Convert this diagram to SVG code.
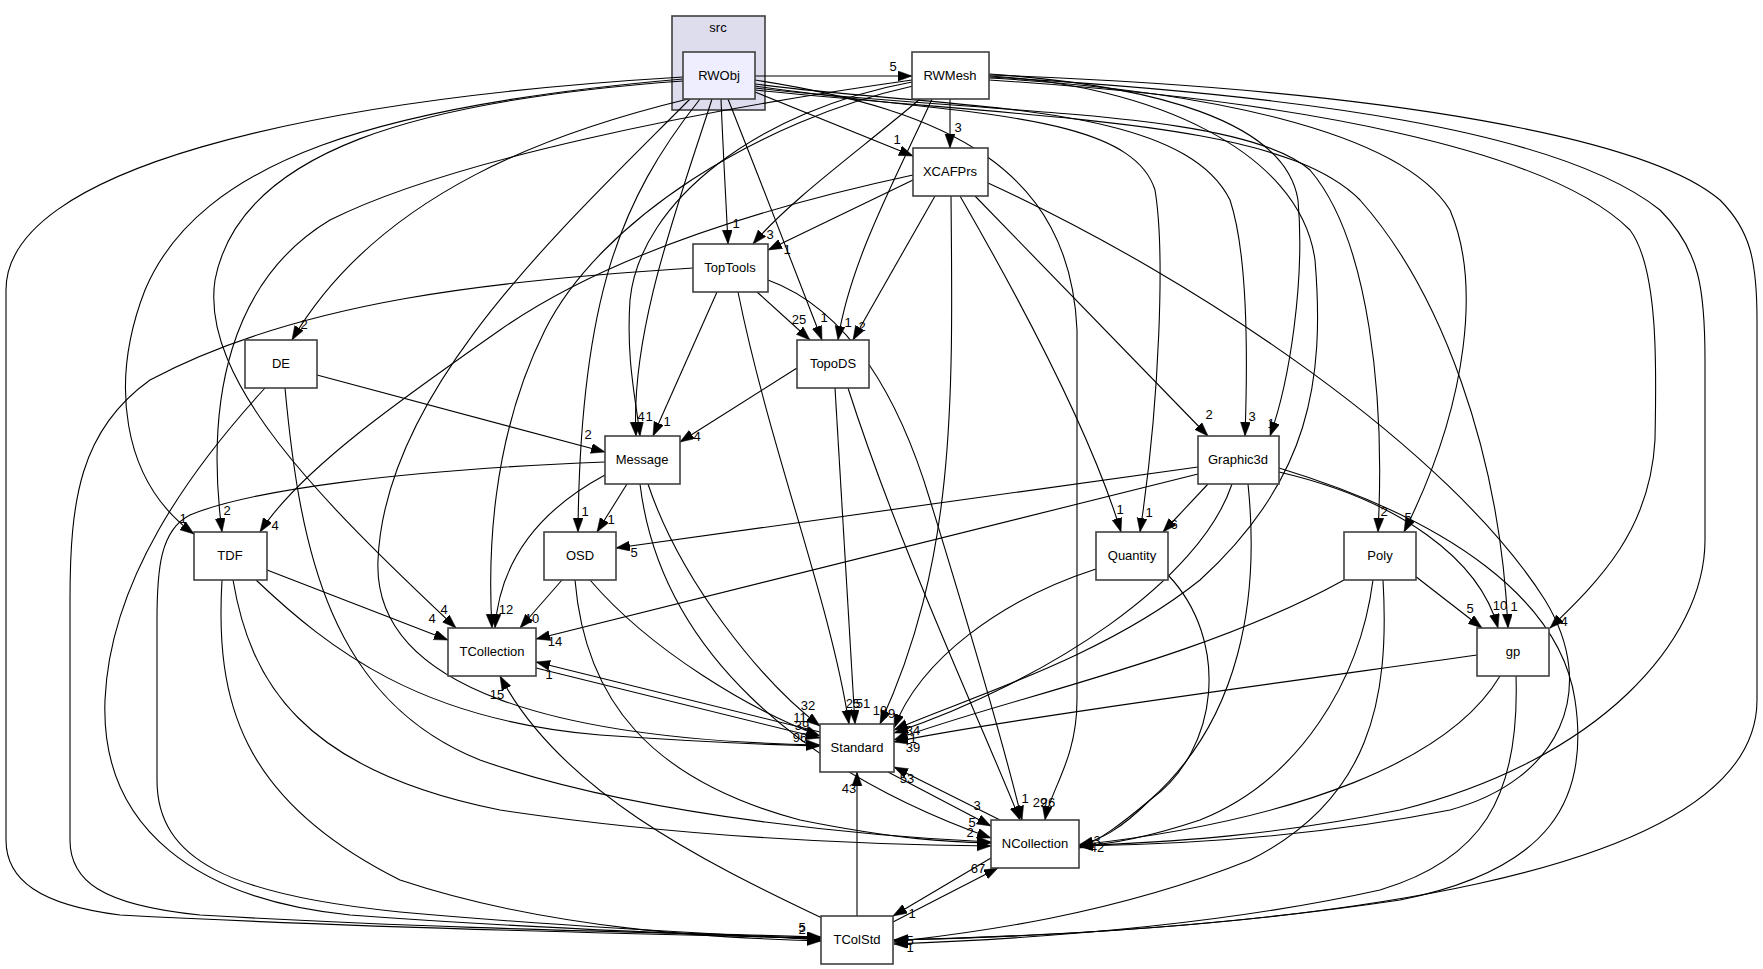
<svg xmlns="http://www.w3.org/2000/svg" width="1763" height="969" viewBox="0 0 1763 969">
<style>
text{font-family:"Liberation Sans",Arial,sans-serif;font-size:13px;fill:#000}
.nd rect{fill:#fff;stroke:#404040;stroke-width:1.6}
.nd text{text-anchor:middle}
.ed path{fill:none;stroke:#000;stroke-width:1.1;marker-end:url(#a)}
.lb text{text-anchor:middle}
</style>
<defs>
<marker id="a" markerUnits="userSpaceOnUse" markerWidth="16" markerHeight="11" refX="14" refY="5" orient="auto"><path d="M0,0 L14,5 L0,10 z" fill="#000" stroke="#000" stroke-width="0.5"/></marker>
</defs>
<rect width="1763" height="969" fill="#fff"/>
<g id="cluster-src">
<rect x="672" y="16" width="93" height="94" fill="#ddddee" stroke="#404040" stroke-width="1.6"/>
<text x="718" y="32" text-anchor="middle">src</text>
</g>
<g class="ed" id="edges">
<path d="M755,76 L912,76"/>
<path d="M755,92 L913,156"/>
<path d="M721,99 C723,150 726,200 728,244"/>
<path d="M728,99 C760,180 795,270 822,340"/>
<path d="M712,99 C680,200 630,330 636,436"/>
<path d="M688,99 C560,130 380,190 292,340"/>
<path d="M683,79 C380,105 200,160 145,290 C110,380 120,480 194,534"/>
<path d="M683,81 C420,100 240,150 215,280 C200,380 320,500 456,628"/>
<path d="M683,77 C300,100 6,170 6,290 L6,840 C6,880 40,905 120,915 C400,930 700,935 821,938"/>
<path d="M700,99 C620,200 580,300 578,532"/>
<path d="M690,99 C560,230 385,390 378,560 C372,690 560,740 820,745"/>
<path d="M755,80 C950,110 1070,170 1077,330 L1077,700 C1077,760 1050,790 1045,820"/>
<path d="M755,84 C950,110 1180,100 1230,200 C1250,260 1247,380 1245,436"/>
<path d="M755,86 C950,115 1130,110 1155,190 C1165,250 1160,400 1140,532"/>
<path d="M755,88 C1000,115 1240,110 1310,170 C1370,240 1385,400 1378,532"/>
<path d="M755,90 C1050,120 1280,120 1360,200 C1440,290 1500,450 1508,628"/>
<path d="M950,99 L950,148"/>
<path d="M920,99 C860,150 790,200 753,244"/>
<path d="M932,99 C900,170 850,260 838,340"/>
<path d="M912,82 C760,110 640,200 630,300 C626,360 636,400 640,436"/>
<path d="M912,80 C700,110 450,160 330,220 C230,280 205,400 222,532"/>
<path d="M913,86 C760,120 600,220 545,330 C490,440 488,560 492,628"/>
<path d="M989,74 C1150,85 1285,120 1298,200 C1305,280 1290,380 1270,436"/>
<path d="M989,76 C1150,85 1300,150 1315,260 C1325,380 1310,480 1200,580 C1100,660 960,700 894,730"/>
<path d="M989,78 C1200,90 1400,130 1450,210 C1480,280 1470,400 1404,532"/>
<path d="M989,80 C1300,100 1550,150 1630,230 C1660,270 1656,380 1655,440 C1650,530 1600,580 1550,628"/>
<path d="M989,77 C1300,95 1560,130 1660,210 C1700,250 1705,290 1705,360 L1705,540 C1705,640 1600,760 1400,810 C1250,840 1150,842 1079,846"/>
<path d="M989,75 C1400,90 1650,140 1720,200 C1750,230 1757,260 1757,320 L1757,700 C1757,880 1300,930 894,940"/>
<path d="M913,180 L768,250"/>
<path d="M935,196 L853,340"/>
<path d="M913,175 C750,210 600,260 500,330 C400,400 300,470 260,532"/>
<path d="M975,196 L1208,436"/>
<path d="M960,196 C1020,300 1090,430 1121,532"/>
<path d="M951,196 C953,400 956,560 880,724"/>
<path d="M988,183 C1200,280 1450,450 1545,600 C1600,690 1560,780 1450,810 C1300,840 1150,845 1079,846"/>
<path d="M757,292 L810,340"/>
<path d="M717,292 L653,436"/>
<path d="M738,292 C770,450 830,600 849,724"/>
<path d="M768,280 C850,310 900,400 930,500 C970,630 1005,750 1022,820"/>
<path d="M693,268 C500,280 300,300 150,380 C80,430 70,500 70,600 L70,840 C70,880 100,905 200,915 C450,930 700,933 821,937"/>
<path d="M317,375 L605,452"/>
<path d="M265,388 C190,470 110,580 105,700 C100,830 200,900 350,915 C550,930 720,935 821,939"/>
<path d="M285,388 C300,550 330,700 480,760 C650,820 900,838 991,842"/>
<path d="M797,368 L680,442"/>
<path d="M835,388 L855,724"/>
<path d="M848,388 C900,550 980,720 1020,820"/>
<path d="M627,484 L597,532"/>
<path d="M605,475 C540,510 500,560 495,628"/>
<path d="M648,484 C680,580 760,680 820,726"/>
<path d="M640,484 C660,650 800,770 991,838"/>
<path d="M605,462 C400,470 250,490 190,515 C160,530 157,570 157,620 L157,780 C157,860 230,895 400,912 C600,930 750,935 821,940"/>
<path d="M1198,467 L616,548"/>
<path d="M1198,474 L536,639"/>
<path d="M1208,484 L1163,532"/>
<path d="M1232,484 C1200,580 1050,680 894,733"/>
<path d="M1248,484 C1260,600 1240,720 1150,800 C1120,830 1100,840 1079,845"/>
<path d="M1279,472 C1400,500 1480,560 1498,628"/>
<path d="M1279,468 C1450,520 1560,600 1575,700 C1590,800 1550,870 1400,900 C1200,930 1000,938 894,940"/>
<path d="M267,570 L448,640"/>
<path d="M256,580 C330,650 420,720 600,735 C700,742 780,745 820,746"/>
<path d="M233,580 C250,680 300,770 500,810 C700,840 900,845 991,846"/>
<path d="M222,580 C215,700 240,800 400,880 C550,930 720,938 821,941"/>
<path d="M562,580 L520,628"/>
<path d="M590,580 C650,650 750,710 820,736"/>
<path d="M575,580 C585,700 650,780 800,820 C900,840 950,842 991,843"/>
<path d="M1096,569 C1000,600 920,660 894,728"/>
<path d="M1168,575 C1230,640 1220,750 1150,800 C1120,825 1100,840 1079,848"/>
<path d="M1415,576 L1482,628"/>
<path d="M1344,580 C1200,660 1000,700 894,740"/>
<path d="M1373,580 C1360,680 1300,780 1200,820 C1140,840 1100,845 1079,846"/>
<path d="M1383,580 C1390,700 1370,800 1250,860 C1100,920 950,935 894,942"/>
<path d="M1477,655 C1300,680 1000,720 894,742"/>
<path d="M1500,676 C1450,760 1300,820 1079,845"/>
<path d="M1516,676 C1520,800 1480,860 1380,890 C1200,930 1000,940 894,944"/>
<path d="M536,668 L820,738"/>
<path d="M820,732 L536,662"/>
<path d="M1000,820 L894,767"/>
<path d="M888,772 L991,826"/>
<path d="M893,922 L998,868"/>
<path d="M991,858 L893,916"/>
<path d="M857,916 L857,772"/>
<path d="M822,918 C700,860 560,790 500,676"/>
</g>
<g class="lb" id="labels">
<text x="893" y="71">5</text>
<text x="897" y="144">1</text>
<text x="958" y="132">3</text>
<text x="736" y="228">1</text>
<text x="770" y="239">3</text>
<text x="787" y="254">1</text>
<text x="304" y="329">2</text>
<text x="641" y="421">4</text>
<text x="649" y="421">1</text>
<text x="667" y="426">1</text>
<text x="697" y="441">4</text>
<text x="588" y="439">2</text>
<text x="183" y="523">1</text>
<text x="227" y="515">2</text>
<text x="275" y="530">4</text>
<text x="585" y="516">1</text>
<text x="611" y="524">1</text>
<text x="634" y="557">5</text>
<text x="444" y="614">4</text>
<text x="506" y="614">12</text>
<text x="432" y="623">4</text>
<text x="532" y="623">10</text>
<text x="555" y="646">14</text>
<text x="549" y="679">1</text>
<text x="497" y="699">15</text>
<text x="799" y="324">25</text>
<text x="824" y="322">1</text>
<text x="848" y="327">1</text>
<text x="862" y="331">2</text>
<text x="1120" y="514">1</text>
<text x="1149" y="517">1</text>
<text x="1174" y="529">6</text>
<text x="1209" y="419">2</text>
<text x="1252" y="421">3</text>
<text x="1271" y="428">1</text>
<text x="1384" y="516">2</text>
<text x="1408" y="522">5</text>
<text x="1470" y="613">5</text>
<text x="1500" y="610">10</text>
<text x="1514" y="611">1</text>
<text x="1564" y="626">4</text>
<text x="808" y="710">32</text>
<text x="853" y="708">25</text>
<text x="863" y="708">51</text>
<text x="880" y="715">10</text>
<text x="888" y="718">49</text>
<text x="800" y="722">11</text>
<text x="802" y="730">39</text>
<text x="800" y="742">96</text>
<text x="913" y="735">34</text>
<text x="913" y="743">1</text>
<text x="913" y="752">39</text>
<text x="907" y="783">53</text>
<text x="849" y="793">43</text>
<text x="977" y="810">3</text>
<text x="972" y="827">5</text>
<text x="970" y="837">2</text>
<text x="1025" y="803">1</text>
<text x="1040" y="807">29</text>
<text x="1048" y="807">26</text>
<text x="978" y="873">67</text>
<text x="912" y="918">1</text>
<text x="802" y="932">5</text>
<text x="802" y="934">2</text>
<text x="910" y="945">5</text>
<text x="910" y="952">1</text>
<text x="1097" y="845">3</text>
<text x="1097" y="852">42</text>
</g>
<g class="nd" id="node-RWObj"><rect x="683" y="52" width="72" height="47" style="fill:#eeeeff"/><text x="719" y="80">RWObj</text></g>
<g class="nd" id="node-RWMesh"><rect x="912" y="52" width="77" height="47"/><text x="950" y="80">RWMesh</text></g>
<g class="nd" id="node-XCAFPrs"><rect x="913" y="148" width="75" height="48"/><text x="950" y="176">XCAFPrs</text></g>
<g class="nd" id="node-TopTools"><rect x="693" y="244" width="75" height="48"/><text x="730" y="272">TopTools</text></g>
<g class="nd" id="node-DE"><rect x="245" y="340" width="72" height="48"/><text x="281" y="368">DE</text></g>
<g class="nd" id="node-TopoDS"><rect x="797" y="340" width="72" height="48"/><text x="833" y="368">TopoDS</text></g>
<g class="nd" id="node-Message"><rect x="605" y="436" width="75" height="48"/><text x="642" y="464">Message</text></g>
<g class="nd" id="node-Graphic3d"><rect x="1198" y="436" width="81" height="48"/><text x="1238" y="464">Graphic3d</text></g>
<g class="nd" id="node-TDF"><rect x="194" y="532" width="73" height="48"/><text x="230" y="560">TDF</text></g>
<g class="nd" id="node-OSD"><rect x="544" y="532" width="72" height="48"/><text x="580" y="560">OSD</text></g>
<g class="nd" id="node-Quantity"><rect x="1096" y="532" width="72" height="48"/><text x="1132" y="560">Quantity</text></g>
<g class="nd" id="node-Poly"><rect x="1344" y="532" width="72" height="48"/><text x="1380" y="560">Poly</text></g>
<g class="nd" id="node-TCollection"><rect x="448" y="628" width="88" height="48"/><text x="492" y="656">TCollection</text></g>
<g class="nd" id="node-gp"><rect x="1477" y="628" width="72" height="48"/><text x="1513" y="656">gp</text></g>
<g class="nd" id="node-Standard"><rect x="820" y="724" width="74" height="48"/><text x="857" y="752">Standard</text></g>
<g class="nd" id="node-NCollection"><rect x="991" y="820" width="88" height="48"/><text x="1035" y="848">NCollection</text></g>
<g class="nd" id="node-TColStd"><rect x="821" y="916" width="72" height="48"/><text x="857" y="944">TColStd</text></g>
</svg>
